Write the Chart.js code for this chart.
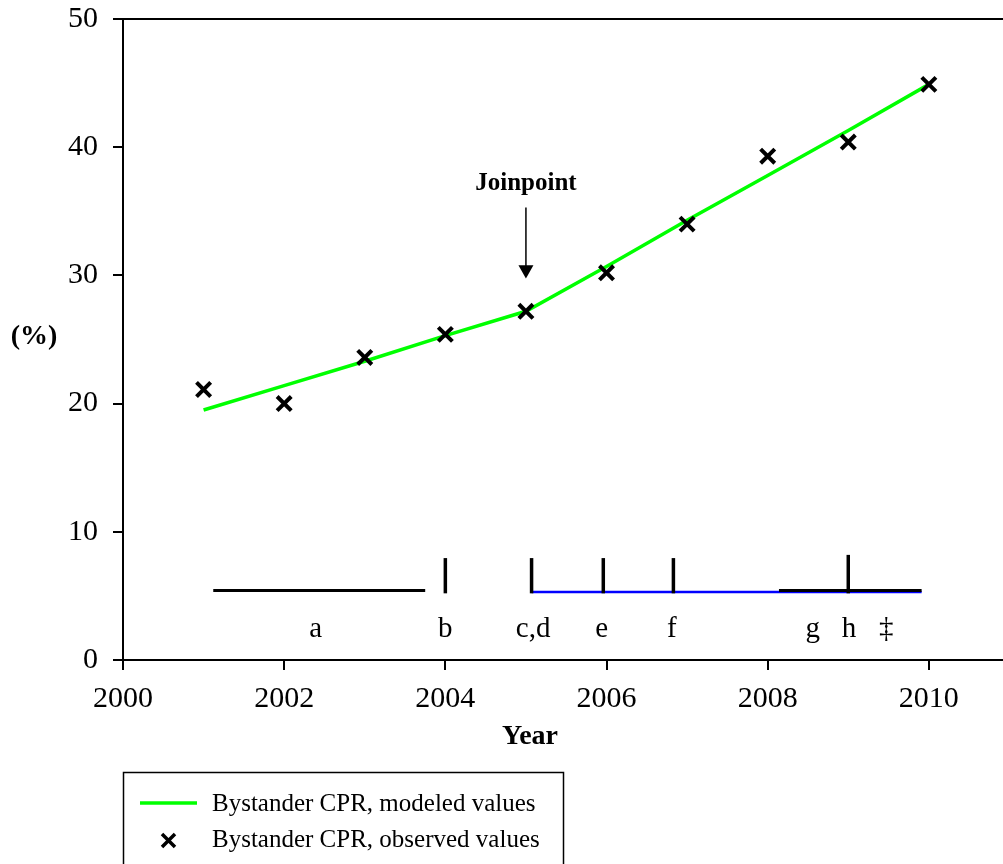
<!DOCTYPE html>
<html>
<head>
<meta charset="utf-8">
<script src="https://cdn.jsdelivr.net/npm/chart.js@4.4.0/dist/chart.umd.min.js"></script>
<style>
  body { margin: 0; background: #fff; }
  #wrap { width: 1003px; height: 864px; }
</style>
</head>
<body>
<div id="wrap"><canvas id="chart" width="1003" height="864"></canvas></div>
<script>
var years = [2001, 2002, 2003, 2004, 2005, 2006, 2007, 2008, 2009, 2010];
var observed = [21.1, 20.0, 23.6, 25.4, 27.2, 30.2, 34.0, 39.3, 40.4, 44.9];
var modeled = [19.5, 21.4, 23.3, 25.3, 27.2, 30.7, 34.3, 37.8, 41.3, 44.9];
var xTicks = [2000, 2002, 2004, 2006, 2008, 2010];
var yTicks = [0, 10, 20, 30, 40, 50];

// period markers along the bottom (data units)
var blackSpans = [[2001.12, 2003.75], [2008.14, 2009.91]];
var blueSpan = [2005.07, 2009.91];
var markYears = [2004.0, 2005.07, 2005.96, 2006.83, 2009.0];
var markTops = [7.95, 7.95, 7.95, 7.95, 8.2];
var periodLabels = ['a', 'b', 'c,d', 'e', 'f', 'g', 'h', '\u2021'];
var labelYears = [2002.39, 2004.0, 2005.09, 2005.94, 2006.81, 2008.56, 2009.01, 2009.47];
var joinYear = 2005.0;

var serif = "'Liberation Serif', 'Times New Roman', serif";

var pts = function (vals) {
    return years.map(function (y, i) { return { x: y, y: vals[i] }; });
};

var extras = {
    id: 'extras',
    afterDatasetsDraw: function (chart) {
        var ctx = chart.ctx;
        var xs = chart.scales.x, ys = chart.scales.y;
        var area = chart.chartArea;
        var px = function (v) { return xs.getPixelForValue(v); };
        var py = function (v) { return ys.getPixelForValue(v); };
        ctx.save();

        // top frame line
        ctx.strokeStyle = '#000';
        ctx.lineWidth = 2;
        ctx.beginPath();
        ctx.moveTo(area.left - 10, area.top);
        ctx.lineTo(area.right, area.top);
        ctx.stroke();

        // blue span
        ctx.strokeStyle = '#0000ff';
        ctx.lineWidth = 2.5;
        ctx.beginPath();
        ctx.moveTo(px(blueSpan[0]), py(5.3));
        ctx.lineTo(px(blueSpan[1]), py(5.3));
        ctx.stroke();

        // black spans
        ctx.strokeStyle = '#000';
        ctx.lineWidth = 3;
        blackSpans.forEach(function (s) {
            ctx.beginPath();
            ctx.moveTo(px(s[0]), py(5.42));
            ctx.lineTo(px(s[1]), py(5.42));
            ctx.stroke();
        });

        // vertical marks
        ctx.lineWidth = 3.5;
        markYears.forEach(function (yr, i) {
            ctx.beginPath();
            ctx.moveTo(px(yr), py(5.2));
            ctx.lineTo(px(yr), py(markTops[i]));
            ctx.stroke();
        });

        // letters
        ctx.fillStyle = '#000';
        ctx.font = '29px ' + serif;
        ctx.textAlign = 'center';
        ctx.textBaseline = 'alphabetic';
        periodLabels.forEach(function (t, i) {
            ctx.fillText(t, px(labelYears[i]), py(1.8));
        });

        // joinpoint arrow
        var jx = px(joinYear);
        ctx.font = 'bold 25px ' + serif;
        ctx.textBaseline = 'middle';
        ctx.fillText('Joinpoint', jx, py(37.15));
        ctx.lineWidth = 1.5;
        ctx.beginPath();
        ctx.moveTo(jx, py(35.3));
        ctx.lineTo(jx, py(30.7));
        ctx.stroke();
        ctx.beginPath();
        ctx.moveTo(jx - 7.5, py(30.8));
        ctx.lineTo(jx + 7.5, py(30.8));
        ctx.lineTo(jx, py(29.75));
        ctx.closePath();
        ctx.fill();

        // axis titles
        ctx.font = 'bold 28px ' + serif;
        ctx.fillText('Year', 530, 737);
        ctx.fillText('(%)', 34, 337);

        // legend box
        ctx.lineWidth = 1.5;
        ctx.strokeRect(123.5, 772.5, 440, 120);
        ctx.strokeStyle = '#00ff00';
        ctx.lineWidth = 3.5;
        ctx.beginPath();
        ctx.moveTo(140, 803);
        ctx.lineTo(197, 803);
        ctx.stroke();
        ctx.strokeStyle = '#000';
        ctx.lineWidth = 3.5;
        ctx.beginPath();
        ctx.moveTo(162, 834); ctx.lineTo(175, 847);
        ctx.moveTo(175, 834); ctx.lineTo(162, 847);
        ctx.stroke();
        ctx.font = '25px ' + serif;
        ctx.textAlign = 'left';
        ctx.fillText('Bystander CPR, modeled values', 212, 804);
        ctx.fillText('Bystander CPR, observed values', 212, 840);

        ctx.restore();
    }
};

var axisGrid = {
    drawOnChartArea: false,
    drawTicks: true,
    tickLength: 10,
    tickColor: '#000',
    tickWidth: 2,
    lineWidth: 2
};

new Chart(document.getElementById('chart'), {
    type: 'scatter',
    data: {
        datasets: [{
            label: 'Bystander CPR, observed values',
            data: pts(observed),
            showLine: false,
            pointStyle: 'crossRot',
            pointRadius: 10,
            pointBorderWidth: 4,
            borderColor: '#000',
            backgroundColor: '#000',
            order: 0
        }, {
            label: 'Bystander CPR, modeled values',
            data: pts(modeled),
            showLine: true,
            borderColor: '#00ff00',
            borderWidth: 3.5,
            pointRadius: 0,
            tension: 0,
            order: 1
        }]
    },
    options: {
        responsive: false,
        animation: false,
        layout: { autoPadding: false, padding: { top: 19, right: 0, left: 0, bottom: 0 } },
        plugins: { legend: { display: false }, tooltip: { enabled: false } },
        scales: {
            x: {
                type: 'linear',
                min: 2000,
                max: 2010.92,
                afterBuildTicks: function (s) { s.ticks = xTicks.map(function (v) { return { value: v }; }); },
                afterFit: function (s) { s.height = 204; s.paddingLeft = 0; s.paddingRight = 0; },
                grid: axisGrid,
                border: { display: true, color: '#000', width: 2 },
                ticks: {
                    color: '#000',
                    padding: 11,
                    font: { family: serif, size: 30 },
                    maxRotation: 0,
                    callback: function (v) { return String(v); }
                }
            },
            y: {
                min: 0,
                max: 50,
                afterBuildTicks: function (s) { s.ticks = yTicks.map(function (v) { return { value: v }; }); },
                afterFit: function (s) { s.width = 123; s.paddingTop = 0; s.paddingBottom = 0; },
                grid: axisGrid,
                border: { display: true, color: '#000', width: 2 },
                ticks: {
                    color: '#000',
                    padding: 15,
                    font: { family: serif, size: 30 },
                    callback: function (v) { return String(v); }
                }
            }
        }
    },
    plugins: [extras]
});
</script>
</body>
</html>
